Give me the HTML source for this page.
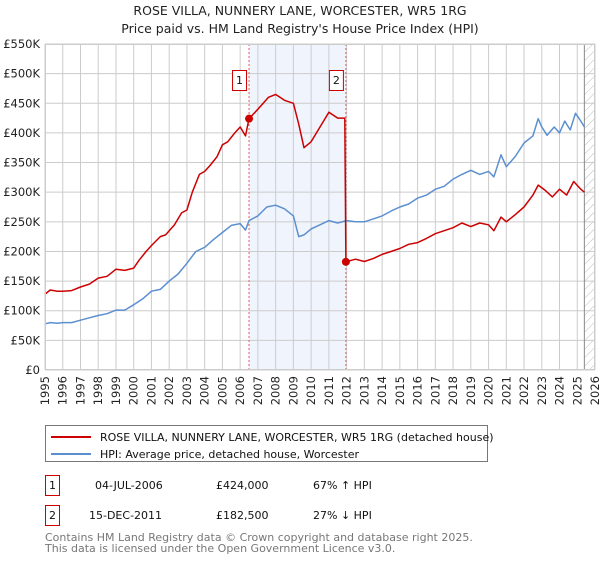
<!DOCTYPE html>
<html><head><meta charset="utf-8"><style>
body{margin:0;background:#fff;font-family:"DejaVu Sans","Liberation Sans",sans-serif;}
svg text{font-family:"DejaVu Sans","Liberation Sans",sans-serif;}
</style></head><body>
<svg id="c" width="600" height="560" xmlns="http://www.w3.org/2000/svg">
<defs><pattern id="hatch" width="6" height="6" patternUnits="userSpaceOnUse" patternTransform="rotate(45)"><line x1="0" y1="0" x2="0" y2="6" stroke="#bbb" stroke-width="1"/></pattern></defs>
<text x="300" y="15" text-anchor="middle" font-size="12.5" fill="#222">ROSE VILLA, NUNNERY LANE, WORCESTER, WR5 1RG</text>
<text x="300" y="33" text-anchor="middle" font-size="12.5" fill="#222">Price paid vs. HM Land Registry's House Price Index (HPI)</text>
<g id="plot"></g>
<g>
<rect x="45.5" y="425.5" width="442" height="36" fill="#fff" stroke="#777"/>
<line x1="51" y1="437" x2="91" y2="437" stroke="#cc0000" stroke-width="2"/>
<text x="100" y="441" font-size="11" fill="#111">ROSE VILLA, NUNNERY LANE, WORCESTER, WR5 1RG (detached house)</text>
<line x1="51" y1="454" x2="91" y2="454" stroke="#5b8fd0" stroke-width="2"/>
<text x="100" y="458" font-size="11" fill="#111">HPI: Average price, detached house, Worcester</text>
</g>
<g font-size="11" fill="#111">
<rect x="45.5" y="475.5" width="14" height="20" fill="#fff" stroke="#cc0000"/><text x="52.5" y="489" text-anchor="middle">1</text>
<text x="95" y="489">04-JUL-2006</text><text x="216" y="489">£424,000</text><text x="313" y="489">67% ↑ HPI</text>
<rect x="45.5" y="505.5" width="14" height="20" fill="#fff" stroke="#cc0000"/><text x="52.5" y="519" text-anchor="middle">2</text>
<text x="89" y="519">15-DEC-2011</text><text x="216" y="519">£182,500</text><text x="313" y="519">27% ↓ HPI</text>
</g>
<text x="45" y="541" font-size="11" fill="#777">Contains HM Land Registry data © Crown copyright and database right 2025.</text>
<text x="45" y="552" font-size="11" fill="#777">This data is licensed under the Open Government Licence v3.0.</text>
</svg>
<script>
const hpiYears=[1995,1995.3,1995.7,1996,1996.5,1997,1997.5,1998,1998.5,1999,1999.5,2000,2000.5,2001,2001.5,2002,2002.5,2003,2003.5,2004,2004.5,2005,2005.5,2006,2006.3,2006.5,2007,2007.5,2008,2008.5,2009,2009.3,2009.6,2010,2010.5,2011,2011.5,2012,2012.5,2013,2013.5,2014,2014.5,2015,2015.5,2016,2016.5,2017,2017.5,2018,2018.5,2019,2019.5,2020,2020.3,2020.7,2021,2021.5,2022,2022.5,2022.8,2023,2023.3,2023.7,2024,2024.3,2024.6,2024.9,2025.2,2025.4];
const hpiValues=[78,80,79,80,80,84,88,92,95,101,101,110,120,133,136,150,162,180,200,207,220,232,244,247,236,252,260,275,278,272,260,225,228,238,245,252,248,252,250,250,255,260,268,275,280,290,295,305,310,322,330,337,330,335,326,363,343,360,383,395,424,410,396,410,400,420,405,433,420,410];
const propYears=[1995,1995.3,1995.7,1996,1996.5,1997,1997.5,1998,1998.5,1999,1999.5,2000,2000.3,2000.7,2001,2001.5,2001.8,2002.3,2002.7,2003,2003.3,2003.7,2004,2004.3,2004.7,2005,2005.3,2005.7,2006,2006.3,2006.5,2007,2007.3,2007.6,2008,2008.5,2009,2009.3,2009.6,2010,2010.5,2011,2011.5,2011.9,2011.96,2012.5,2013,2013.5,2014,2014.5,2015,2015.5,2016,2016.5,2017,2017.5,2018,2018.5,2019,2019.5,2020,2020.3,2020.7,2021,2021.5,2022,2022.5,2022.8,2023.2,2023.6,2024,2024.4,2024.8,2025.2,2025.4];
const propValues=[128,135,133,133,134,140,145,155,158,170,168,172,185,200,210,225,228,245,265,270,300,330,335,345,360,380,385,400,410,395,424,440,450,460,465,455,450,415,375,385,410,435,425,425,182.5,187,183,188,195,200,205,212,215,222,230,235,240,248,242,248,245,235,258,250,262,275,295,312,303,292,305,295,318,305,300];
const saleYears=[2006.5,2011.96];
const saleValues=[424,182.5];
const saleLabels=["1","2"];
const yTicks=[0,50,100,150,200,250,300,350,400,450,500,550];
const yTickLabels=["£0","£50K","£100K","£150K","£200K","£250K","£300K","£350K","£400K","£450K","£500K","£550K"];
const xTicks=[1995,1996,1997,1998,1999,2000,2001,2002,2003,2004,2005,2006,2007,2008,2009,2010,2011,2012,2013,2014,2015,2016,2017,2018,2019,2020,2021,2022,2023,2024,2025,2026];
const dataEnd=2025.4;

const L=45,R=595,T=44,B=370;
const xS=y=>L+(y-1995)*(R-L)/31;
const yS=v=>B-v*(B-T)/550;
const NS="http://www.w3.org/2000/svg";
const g=document.getElementById('plot');
function mk(t,a,p){const e=document.createElementNS(NS,t);for(const k in a)e.setAttribute(k,a[k]);(p||g).appendChild(e);return e;}

const band=mk('rect',{x:xS(saleYears[0]),y:T,width:xS(saleYears[1])-xS(saleYears[0]),height:B-T,fill:'#f0f4fc'});


const hat=mk('rect',{x:xS(dataEnd),y:T,width:R-xS(dataEnd),height:B-T,fill:'url(#hatch)'});



yTicks.forEach((v,i)=>{
  mk('line',{x1:L,x2:R,y1:yS(v),y2:yS(v),stroke:'#ccc','stroke-width':1});
  const t=mk('text',{x:L-5,y:yS(v)+4,'text-anchor':'end','font-size':11.5,fill:'#222'});
  t.textContent=yTickLabels[i];
  
  
});
xTicks.forEach(yr=>{
  mk('line',{x1:xS(yr),x2:xS(yr),y1:T,y2:B,stroke:'#ccc','stroke-width':1});
  const t=mk('text',{x:0,y:0,'font-size':11.5,fill:'#222','text-anchor':'end',transform:`translate(${xS(yr)+4},${B+6}) rotate(-90)`});
  t.textContent=yr;
  
  
});
mk('line',{x1:xS(dataEnd),x2:xS(dataEnd),y1:T,y2:B,stroke:'#888','stroke-width':1});

saleYears.forEach(yr=>{
  const l=mk('line',{x1:xS(yr),x2:xS(yr),y1:T,y2:B,stroke:'#e06060','stroke-width':1,'stroke-dasharray':'2,2'});
  
  
});

function path(xs,vs,col,name){
  const d=xs.map((x,i)=>(i?'L':'M')+xS(x).toFixed(1)+','+yS(vs[i]).toFixed(1)).join('');
  const p=mk('path',{d:d,fill:'none',stroke:col,'stroke-width':1.5,'stroke-linejoin':'round'});
  
  
}
path(hpiYears,hpiValues,'#5b8fd0','hpi-line');
path(propYears,propValues,'#cc0000','property-price-line');

saleYears.forEach((yr,i)=>{
  const c=mk('circle',{cx:xS(yr),cy:yS(saleValues[i]),r:4,fill:'#cc0000'});
  
  
  const bx=xS(yr)-3-14;
  const r=mk('rect',{x:bx+0.5,y:70.5,width:14,height:20,fill:'#fff',stroke:'#cc0000'});
  
  
  const t=mk('text',{x:bx+7.5,y:84,'text-anchor':'middle','font-size':11,fill:'#111'});
  t.textContent=saleLabels[i];
  
  
});
mk('rect',{x:L+0.5,y:T+0.5,width:R-L-1,height:B-T-1,fill:'none',stroke:'#ccc'});
</script>
</body></html>
